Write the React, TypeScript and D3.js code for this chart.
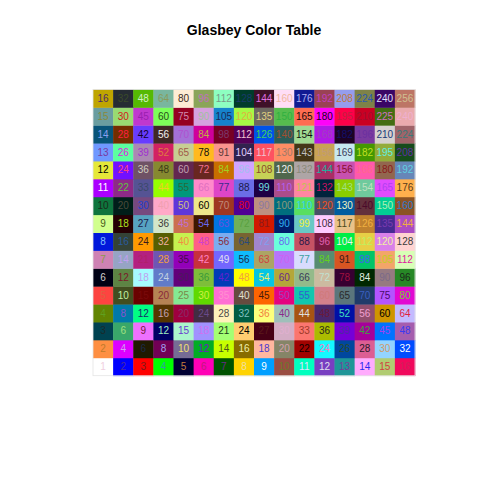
import React, { useEffect, useRef } from "react";
import * as d3 from "d3";

// Glasbey palette, index 1..256, filled row by row from the bottom row
const glasbey: [number, number, number][] = [
  [255, 255, 255], [0, 0, 255], [255, 0, 0], [0, 255, 0], [0, 0, 51], [255, 0, 182], [0, 83, 0], [255, 211, 0],
  [0, 159, 255], [154, 77, 66], [0, 255, 190], [120, 63, 193], [31, 150, 152], [255, 172, 253], [177, 204, 113], [241, 8, 92],
  [254, 143, 66], [221, 0, 255], [32, 26, 1], [114, 0, 85], [118, 108, 149], [2, 173, 36], [200, 255, 0], [136, 108, 0],
  [255, 183, 159], [133, 133, 103], [161, 3, 0], [20, 249, 255], [0, 71, 158], [220, 94, 147], [147, 212, 255], [0, 76, 255],
  [0, 66, 80], [57, 167, 106], [238, 112, 254], [0, 0, 100], [171, 245, 204], [161, 146, 255], [164, 255, 115], [255, 206, 113],
  [71, 0, 21], [212, 173, 197], [251, 118, 111], [171, 188, 0], [117, 0, 215], [166, 0, 154], [0, 115, 254], [165, 93, 174],
  [98, 132, 2], [0, 121, 168], [0, 255, 131], [86, 53, 0], [159, 0, 63], [66, 45, 66], [255, 242, 187], [0, 93, 67],
  [252, 255, 124], [159, 191, 186], [167, 84, 19], [74, 39, 108], [0, 16, 166], [145, 78, 109], [207, 149, 0], [195, 187, 255],
  [253, 68, 64], [66, 78, 32], [106, 1, 0], [181, 131, 84], [132, 233, 147], [96, 217, 0], [255, 111, 211], [102, 75, 63],
  [254, 100, 0], [228, 3, 127], [17, 199, 174], [210, 129, 139], [91, 118, 124], [32, 59, 106], [180, 84, 255], [226, 8, 210],
  [0, 1, 20], [93, 132, 68], [166, 250, 255], [97, 123, 201], [98, 0, 122], [126, 190, 58], [0, 60, 183], [255, 253, 0],
  [7, 197, 226], [180, 167, 57], [148, 186, 138], [204, 187, 160], [55, 0, 49], [0, 40, 1], [150, 122, 129], [39, 136, 38],
  [206, 130, 180], [150, 164, 196], [180, 32, 128], [110, 86, 180], [147, 0, 185], [199, 48, 61], [115, 102, 255], [15, 187, 253],
  [172, 164, 100], [182, 117, 250], [216, 220, 254], [87, 141, 113], [216, 85, 34], [0, 196, 103], [243, 165, 105], [216, 255, 182],
  [1, 24, 219], [52, 66, 54], [255, 154, 0], [87, 95, 1], [198, 241, 79], [255, 95, 133], [123, 172, 240], [120, 100, 49],
  [162, 133, 204], [105, 255, 220], [198, 82, 100], [121, 26, 64], [0, 238, 70], [231, 207, 69], [217, 128, 233], [255, 211, 209],
  [209, 255, 141], [36, 0, 3], [87, 163, 193], [211, 231, 201], [203, 111, 79], [62, 24, 0], [0, 117, 223], [112, 176, 88],
  [209, 24, 0], [0, 30, 107], [105, 200, 197], [255, 203, 255], [233, 194, 137], [191, 129, 46], [69, 42, 145], [171, 76, 194],
  [14, 117, 61], [0, 30, 25], [118, 73, 127], [255, 169, 200], [94, 55, 217], [238, 230, 138], [159, 54, 33], [80, 0, 148],
  [189, 144, 128], [0, 109, 126], [88, 223, 96], [71, 80, 103], [1, 93, 159], [99, 48, 60], [2, 206, 148], [139, 83, 37],
  [171, 0, 255], [141, 42, 135], [85, 83, 148], [150, 255, 0], [0, 152, 123], [255, 138, 203], [222, 69, 200], [107, 109, 230],
  [30, 0, 68], [173, 76, 138], [255, 134, 161], [0, 35, 60], [138, 205, 0], [111, 202, 157], [225, 75, 253], [255, 176, 77],
  [229, 232, 57], [114, 16, 255], [111, 82, 101], [134, 137, 48], [99, 38, 80], [105, 38, 32], [200, 110, 0], [209, 164, 255],
  [198, 210, 86], [79, 103, 77], [174, 165, 166], [170, 45, 101], [199, 81, 175], [255, 89, 172], [146, 102, 78], [102, 134, 184],
  [111, 152, 255], [92, 255, 159], [172, 137, 178], [210, 34, 98], [199, 207, 147], [255, 185, 30], [250, 148, 141], [49, 34, 78],
  [254, 81, 97], [254, 141, 100], [68, 54, 23], [201, 162, 84], [199, 232, 240], [68, 152, 0], [147, 172, 58], [22, 75, 28],
  [8, 84, 121], [116, 45, 0], [104, 60, 255], [64, 41, 38], [164, 113, 215], [207, 0, 155], [118, 1, 35], [83, 0, 88],
  [0, 82, 232], [43, 92, 87], [160, 217, 146], [176, 26, 229], [29, 3, 36], [122, 58, 159], [214, 209, 207], [160, 100, 105],
  [106, 157, 160], [153, 219, 113], [192, 56, 207], [125, 255, 89], [149, 0, 34], [213, 162, 223], [22, 131, 204], [166, 249, 69],
  [109, 105, 97], [86, 188, 78], [255, 109, 81], [255, 3, 248], [255, 0, 73], [202, 0, 35], [67, 109, 18], [234, 170, 173],
  [191, 165, 0], [38, 44, 51], [85, 185, 2], [121, 182, 158], [254, 236, 212], [139, 165, 89], [141, 254, 193], [0, 60, 43],
  [63, 17, 40], [255, 221, 246], [17, 26, 146], [154, 66, 84], [149, 157, 238], [126, 130, 72], [58, 6, 101], [189, 117, 101],
];

// label colours, same order as the palette
const textColors = [
  "#f0d0e0", "#4a2aa0", "#7a1a1a", "#30a0a0", "#c07a3a", "#c01a7a", "#6a2a8a", "#f0e0a0", "#ffffff", "#6a7a2a", "#e0e0ff", "#e0e0f0", "#7a3a9a", "#2a2af0", "#d04040", "#d0205a",
  "#c07a2a", "#d0a0f0", "#1a2a4a", "#a0a0f0", "#f0e070", "#6a20c0", "#4a5a1a", "#f0f0b0", "#4a3ad0", "#d0a0b0", "#100000", "#f080c0", "#2a4a2a", "#2a1a2a", "#d09a6a", "#ffffff",
  "#1a2a2a", "#a0e080", "#7a1a3a", "#a0f0c0", "#6a3ad0", "#d070f0", "#1a3a1a", "#000000", "#5a1a1a", "#e0b0d0", "#a03a2a", "#2a2a1a", "#4a2aa0", "#40a040", "#a040f0", "#3a3af0",
  "#60a020", "#8a50d0", "#1a2a6a", "#c0a0b0", "#8a2a6a", "#6a4a8a", "#4a4a4a", "#80c0c0", "#f08040", "#8a2a8a", "#e0e0e0", "#6a1a3a", "#40e0c0", "#f0a0d0", "#000000", "#e02040",
  "#e06040", "#c0f0a0", "#7a0a0a", "#8a2a3a", "#7a8a4a", "#d0f040", "#ff90d0", "#e0e0d0", "#4a1a0a", "#a040c0", "#3060d0", "#d07a7a", "#2a2a2a", "#3a60c0", "#4a0a6a", "#70d030",
  "#d0d0d0", "#7a1a2a", "#c0a0f0", "#c0d0e0", "#4a1a5a", "#3a9a3a", "#6020d0", "#f0a040", "#f0f070", "#6a2a8a", "#3a3a5a", "#c0e0d0", "#a01040", "#e0f0e0", "#7a6a8a", "#1a2a1a",
  "#8a9a4a", "#c0a0f0", "#b0206a", "#f0a040", "#4a0a4a", "#ff80c0", "#e0e0f0", "#1a2a4a", "#d04040", "#d060f0", "#40a0a0", "#60d020", "#3a1a1a", "#4060f0", "#c0d020", "#e020a0",
  "#80c0ff", "#2a5a9a", "#3a1a1a", "#f0b0a0", "#f09040", "#d040d0", "#8a2a3a", "#2a4a7a", "#80a0f0", "#6a6af0", "#2a1a4a", "#e060b0", "#f0f0f0", "#c0f060", "#f0f0a0", "#3a3a3a",
  "#4a5a1a", "#b0e020", "#1a1a4a", "#3a3a3a", "#c070d0", "#6a6af0", "#6a50e0", "#5aa040", "#8a1a1a", "#30b0f0", "#f0f040", "#3a2a3a", "#4a4a1a", "#f0b040", "#7a3ab0", "#f0b040",
  "#1a2a1a", "#4a4a3a", "#2040d0", "#f0a0b0", "#d0c080", "#000000", "#c08a7a", "#e00020", "#8a7aa0", "#8a9a7a", "#30d0f0", "#f05020", "#f0f0c0", "#4a0a2a", "#b0f0b0", "#2a7ad0",
  "#ffffff", "#60c040", "#3a4a6a", "#f0d020", "#2a6a3a", "#e070c0", "#3a2a8a", "#1a1a4a", "#70e0e0", "#b060f0", "#c0c050", "#d01060", "#a0e080", "#c0e0c0", "#b040f0", "#5a3a1a",
  "#000000", "#ff4080", "#d0d0c0", "#3a3a1a", "#c0a0b0", "#f07090", "#a0d020", "#a0c0f0", "#8a4a2a", "#f0f0f0", "#8a8a7a", "#20b0a0", "#8a1030", "#ff6a8a", "#8a1a1a", "#60d0e0",
  "#7a3aa0", "#e020e0", "#a030d0", "#e07a40", "#a05a4a", "#101010", "#5a3a3a", "#e0d0ff", "#f0c0d0", "#a07a6a", "#c0c0c0", "#c09a7a", "#3a3a5a", "#c0e020", "#60f0e0", "#6030a0",
  "#8aa0f0", "#ff2040", "#100030", "#f0f0f0", "#b050d0", "#c0b040", "#7a3a6a", "#f0c0d0", "#40d060", "#a05030", "#101010", "#a040c0", "#10106a", "#6a30a0", "#1a3a7a", "#3a7a7a",
  "#8a8a3a", "#d02020", "#9a20b0", "#2a4a1a", "#d08ab0", "#a0c0a0", "#1a2a5a", "#e0b040", "#e0d080", "#30b040", "#1a0a0a", "#200020", "#c02040", "#a01030", "#d070c0", "#f0b0d0",
  "#4a2a6a", "#3a4a2a", "#d0f0c0", "#8a9a5a", "#3a2a1a", "#c070c0", "#7a9a8a", "#1a3a6a", "#e070e0", "#f0b8a0", "#b0b0f0", "#c040c0", "#c07a3a", "#2a5ab0", "#e0e0ff", "#d0c090",
];

const rowIds = d3.range(1, 17);
const colIds = d3.range(1, 17);

// cell labels, bottom row first
const labelRows = [
  [1, 2, 3, 4, 5, 6, 7, 8, 9, 10, 11, 12, 13, 14, 15, 16],
  [2, 4, 6, 8, 10, 12, 14, 16, 18, 20, 22, 24, 26, 28, 30, 32],
  [3, 6, 9, 12, 15, 18, 21, 24, 27, 30, 33, 36, 39, 42, 45, 48],
  [4, 8, 12, 16, 20, 24, 28, 32, 36, 40, 44, 48, 52, 56, 60, 64],
  [5, 10, 15, 20, 25, 30, 35, 40, 45, 50, 55, 60, 65, 70, 75, 80],
  [6, 12, 18, 24, 30, 36, 42, 48, 54, 60, 66, 72, 78, 84, 90, 96],
  [7, 14, 21, 28, 35, 42, 49, 56, 63, 70, 77, 84, 91, 98, 105, 112],
  [8, 16, 24, 32, 40, 48, 56, 64, 72, 80, 88, 96, 104, 112, 120, 128],
  [9, 18, 27, 36, 45, 54, 63, 72, 81, 90, 99, 108, 117, 126, 135, 144],
  [10, 20, 30, 40, 50, 60, 70, 80, 90, 100, 110, 120, 130, 140, 150, 160],
  [11, 22, 33, 44, 55, 66, 77, 88, 99, 110, 121, 132, 143, 154, 165, 176],
  [12, 24, 36, 48, 60, 72, 84, 96, 108, 120, 132, 144, 156, 168, 180, 192],
  [13, 26, 39, 52, 65, 78, 91, 104, 117, 130, 143, 156, 169, 182, 195, 208],
  [14, 28, 42, 56, 70, 84, 98, 112, 126, 140, 154, 168, 182, 196, 210, 224],
  [15, 30, 45, 60, 75, 90, 105, 120, 135, 150, 165, 180, 195, 210, 225, 240],
  [16, 32, 48, 64, 80, 96, 112, 128, 144, 160, 176, 192, 208, 224, 240, 256],
];

const App = () => {
  const ref = useRef<SVGSVGElement>(null);

  useEffect(() => {
    const svg = d3.select(ref.current);
    svg.selectAll("*").remove();

    const x = d3.scaleBand<number>().domain(colIds).range([93, 415]);
    const y = d3.scaleBand<number>().domain(rowIds.slice().reverse()).range([89.5, 375.7]);

    const cells = rowIds.flatMap((r) =>
      colIds.map((c) => {
        const i = (r - 1) * 16 + (c - 1);
        return { r, c, fill: d3.rgb(...glasbey[i]).formatHex(), text: textColors[i], label: labelRows[r - 1][c - 1] };
      })
    );

    svg
      .append("text")
      .attr("x", 254)
      .attr("y", 35)
      .attr("text-anchor", "middle")
      .style("font-family", "'Liberation Sans', Arial, sans-serif")
      .style("font-weight", "bold")
      .style("font-size", "14px")
      .text("Glasbey Color Table");

    const g = svg.append("g");

    g.selectAll("rect")
      .data(cells)
      .enter()
      .append("rect")
      .attr("x", (d) => x(d.c)!)
      .attr("y", (d) => y(d.r)!)
      .attr("width", x.bandwidth() + 0.4)
      .attr("height", y.bandwidth() + 0.4)
      .attr("fill", (d) => d.fill);

    g.append("rect")
      .attr("x", 93)
      .attr("y", 89.5)
      .attr("width", 322)
      .attr("height", 286.2)
      .attr("fill", "none")
      .attr("stroke", "#e4e4e4")
      .attr("stroke-width", 0.8);

    g.selectAll("text")
      .data(cells)
      .enter()
      .append("text")
      .attr("x", (d) => x(d.c)! + x.bandwidth() / 2)
      .attr("y", (d) => y(d.r)! + y.bandwidth() / 2)
      .attr("dy", "0.35em")
      .attr("text-anchor", "middle")
      .style("font-family", "'Liberation Sans', Arial, sans-serif")
      .style("font-size", "10px")
      .attr("fill", (d) => d.text)
      .text((d) => d.label);
  }, []);

  return (
    <svg
      ref={ref}
      width={480}
      height={480}
      style={{ position: "absolute", left: 0, top: 0, background: "#ffffff" }}
    />
  );
};

export default App;
